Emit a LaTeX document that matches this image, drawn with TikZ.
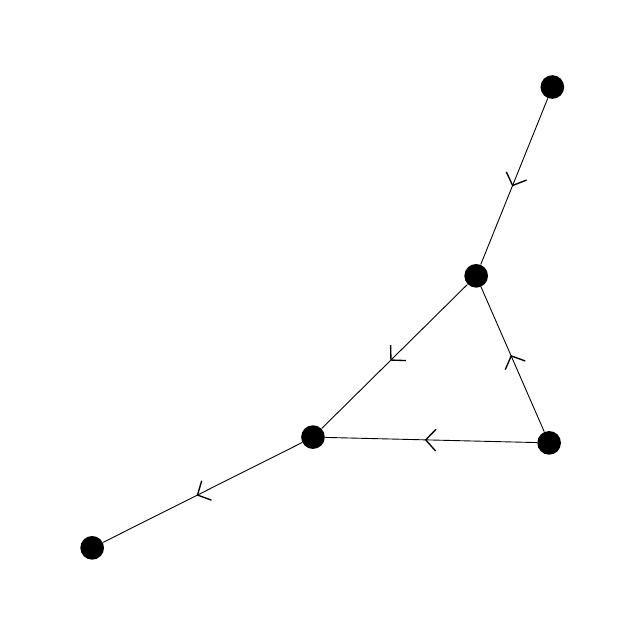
\documentclass[tikz,border=0pt]{standalone}
\usepackage{tikz}
\usetikzlibrary{arrows}
\usetikzlibrary{arrows.meta}
\usetikzlibrary{decorations.markings}
\tikzset{vtx/.style = {fill, circle, inner sep = 0, minimum size = 0.37cm}}
\tikzset{midarrow/.style = {postaction = {decorate},
    decoration = {markings, mark = at position 0.53 with {\arrow{Straight Barb[length=1.6mm, width=3.4mm, line width=0.6pt]}}}}}

\begin{document}
\begin{tikzpicture}
    \useasboundingbox (0, 0) rectangle (10, 10);

    \node [vtx] (a) at (8.63, 8.64) {};
    \node [vtx] (b) at (7.44, 5.69) {};
    \node [vtx] (c) at (8.58, 3.08) {};
    \node [vtx] (d) at (4.89, 3.17) {};
    \node [vtx] (e) at (1.44, 1.44) {};

    \draw [midarrow] (a) -- (b);
    \draw [midarrow] (b) -- (d);
    \draw [midarrow] (c) -- (b);
    \draw [midarrow] (c) -- (d);
    \draw [midarrow] (d) -- (e);
  \end{tikzpicture}
\end{document}
